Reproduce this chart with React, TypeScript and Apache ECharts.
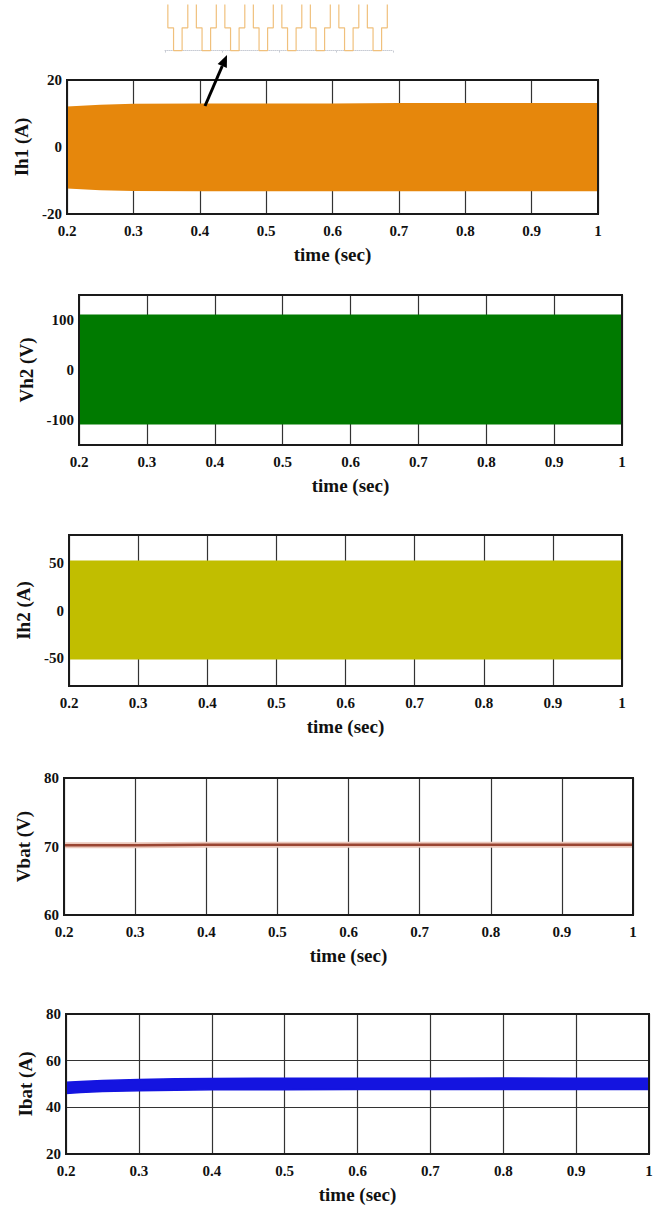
import React, { useEffect, useRef } from "react";
import * as echarts from "echarts";

// ---- data ----
const timeTicks = [0.2, 0.3, 0.4, 0.5, 0.6, 0.7, 0.8, 0.9, 1];

const ih1Time = [0.2, 0.25, 0.3, 0.4, 0.5, 0.6, 0.7, 0.8, 0.9, 1.0];
const ih1Upper = [12.1, 12.6, 12.9, 13.0, 13.0, 13.0, 13.1, 13.1, 13.1, 13.1];
const ih1Lower = [-12.4, -12.9, -13.1, -13.2, -13.2, -13.2, -13.2, -13.2, -13.2, -13.2];

const vh2Time = [0.2, 0.3, 0.4, 0.5, 0.6, 0.7, 0.8, 0.9, 1.0];
const vh2Upper = [111, 111, 111, 111, 111, 111, 111, 111, 111];
const vh2Lower = [-109, -109, -109, -109, -109, -109, -109, -109, -109];

const ih2Time = [0.2, 0.3, 0.4, 0.5, 0.6, 0.7, 0.8, 0.9, 1.0];
const ih2Upper = [53, 53, 53, 53, 53, 53, 53, 53, 53];
const ih2Lower = [-52, -52, -52, -52, -52, -52, -52, -52, -52];

const vbatTime = [0.2, 0.3, 0.4, 0.5, 0.6, 0.7, 0.8, 0.9, 1.0];
const vbatValues = [70.2, 70.2, 70.25, 70.25, 70.25, 70.25, 70.25, 70.25, 70.25];

const ibatTime = [0.2, 0.22, 0.25, 0.3, 0.35, 0.4, 0.5, 0.6, 0.7, 0.8, 0.9, 1.0];
const ibatUpper = [50.7, 51.1, 51.5, 51.9, 52.2, 52.4, 52.5, 52.5, 52.5, 52.6, 52.5, 52.5];
const ibatLower = [45.9, 46.4, 46.8, 47.1, 47.3, 47.5, 47.5, 47.6, 47.6, 47.6, 47.6, 47.6];

// inset: stepped multilevel waveform (3 = top, cut off by the frame; 1 = middle step; 0 = bottom)
const insetLevels = [
  3, 1, 1, 0, 0, 0, 1, 1, 3, 3,
  3, 1, 1, 0, 0, 0, 1, 1, 3, 3,
  3, 1, 1, 0, 0, 0, 1, 1, 3, 3,
  3, 1, 1, 0, 0, 0, 1, 1, 3, 3,
  3, 1, 1, 0, 0, 0, 1, 1, 3, 3,
  3, 1, 1, 0, 0, 0, 1, 1, 3, 3,
  3, 1, 1, 0, 0, 0, 1, 1, 3, 3,
  3, 1, 1, 0, 0, 0, 1, 1, 3, 3,
  3,
];

const panelNames = ["Ih1 (A)", "Vh2 (V)", "Ih2 (A)", "Vbat (V)", "Ibat (A)"];
const yMins = [-20, -150, -80, 60, 20];
const yMaxs = [20, 150, 80, 80, 80];
const yIntervals = [20, 50, 10, 10, 20];
const yLabelValues = [
  [-20, 0, 20],
  [-100, 0, 100],
  [-50, 0, 50],
  [60, 70, 80],
  [20, 40, 60, 80],
];
const yGridLines = [false, false, false, true, true];

// layout (pixels)
const grids = [
  { left: 67, right: 598, top: 80, bottom: 214 },
  { left: 79, right: 622, top: 295, bottom: 445 },
  { left: 69, right: 622, top: 535, bottom: 686 },
  { left: 64, right: 633, top: 778, bottom: 915 },
  { left: 66, right: 649, top: 1014, bottom: 1154 },
];

const FONT = "Liberation Serif";
const TXT = "#111";

function band(idx: number, t: number[], lo: number[], hi: number[], color: string, stroke: boolean) {
  return {
    type: "custom",
    xAxisIndex: idx,
    yAxisIndex: idx,
    silent: true,
    clip: true,
    data: [[t[0], lo[0]]],
    renderItem: (_params: any, api: any) => {
      const pts: number[][] = [];
      for (let i = 0; i < t.length; i++) pts.push(api.coord([t[i], hi[i]]));
      for (let i = t.length - 1; i >= 0; i--) pts.push(api.coord([t[i], lo[i]]));
      return {
        type: "polygon",
        shape: { points: pts },
        style: stroke
          ? { fill: color, stroke: color, lineWidth: 1.5, lineJoin: "round" }
          : { fill: color },
      };
    },
  };
}

export default function App() {
  const ref = useRef<HTMLDivElement>(null);

  useEffect(() => {
    if (!ref.current) return;
    const chart = echarts.init(ref.current, undefined, { renderer: "svg" });

    const gridOpts: any[] = grids.map((g) => ({
      left: g.left,
      top: g.top,
      width: g.right - g.left,
      height: g.bottom - g.top,
      show: true,
      borderColor: "#1a1a1a",
      borderWidth: 2,
      backgroundColor: "transparent",
      z: 5,
    }));
    gridOpts.push({ left: 165, top: 5, width: 228, height: 57, show: false });

    const xAxes: any[] = grids.map((_g, i) => ({
      type: "value",
      gridIndex: i,
      min: 0.2,
      max: 1,
      interval: 0.1,
      name: "time (sec)",
      nameLocation: "middle",
      nameGap: 31,
      nameTextStyle: { fontFamily: FONT, fontWeight: "bold", fontSize: 19, color: TXT },
      axisLine: { show: false },
      axisTick: { show: false },
      axisLabel: {
        margin: 9,
        showMinLabel: true,
        showMaxLabel: true,
        fontFamily: FONT,
        fontWeight: "bold",
        fontSize: 15,
        color: TXT,
        formatter: (v: number) => {
          const r = Math.round(v * 10) / 10;
          return timeTicks.indexOf(r) >= 0 ? String(r) : "";
        },
      },
      splitLine: { show: true, lineStyle: { color: "#333", width: 1.2 } },
    }));
    xAxes.push({
      type: "value",
      gridIndex: 5,
      min: 0,
      max: insetLevels.length - 1,
      axisLine: { show: true, lineStyle: { color: "#c8ccd4", type: "dotted", width: 1 } },
      axisTick: { show: true, length: 2, lineStyle: { color: "#c8ccd4" } },
      axisLabel: { show: false },
      splitLine: { show: false },
    });

    const yAxes: any[] = grids.map((g, i) => ({
      type: "value",
      gridIndex: i,
      min: yMins[i],
      max: yMaxs[i],
      interval: yIntervals[i],
      name: panelNames[i],
      nameLocation: "middle",
      nameGap: g.left - 37,
      nameTextStyle: { fontFamily: FONT, fontWeight: "bold", fontSize: 19, color: TXT },
      axisLine: { show: false },
      axisTick: { show: false },
      axisLabel: {
        margin: 5,
        showMinLabel: true,
        showMaxLabel: true,
        fontFamily: FONT,
        fontWeight: "bold",
        fontSize: 15,
        color: TXT,
        formatter: (v: number) => (yLabelValues[i].indexOf(Math.round(v)) >= 0 ? String(Math.round(v)) : ""),
      },
      splitLine: { show: yGridLines[i], lineStyle: { color: "#333", width: 1.2 } },
    }));
    yAxes.push({
      type: "value",
      gridIndex: 5,
      min: -0.5,
      max: 2,
      show: false,
    });

    const series: any[] = [
      band(0, ih1Time, ih1Lower, ih1Upper, "#e6870c", false),
      band(1, vh2Time, vh2Lower, vh2Upper, "#007a00", false),
      band(2, ih2Time, ih2Lower, ih2Upper, "#c1be00", false),
      {
        type: "line",
        xAxisIndex: 3,
        yAxisIndex: 3,
        silent: true,
        symbol: "none",
        lineStyle: { color: "#ecc8bc", width: 6 },
        data: vbatTime.map((t, i) => [t, vbatValues[i]]),
        z: 2,
      },
      {
        type: "line",
        xAxisIndex: 3,
        yAxisIndex: 3,
        silent: true,
        symbol: "none",
        lineStyle: { color: "#9a4532", width: 2.5 },
        data: vbatTime.map((t, i) => [t, vbatValues[i]]),
        z: 3,
      },
      band(4, ibatTime, ibatLower, ibatUpper, "#1414e0", true),
      {
        type: "line",
        xAxisIndex: 5,
        yAxisIndex: 5,
        silent: true,
        symbol: "none",
        step: "end",
        clip: true,
        lineStyle: { color: "#f0c07c", width: 1.2 },
        data: insetLevels.map((lv, i) => [i, lv]),
      },
    ];

    // arrow pointing to the inset
    const tail = [205, 106];
    const tip = [227, 55];
    const dx = tip[0] - tail[0];
    const dy = tip[1] - tail[1];
    const len = Math.sqrt(dx * dx + dy * dy);
    const ux = dx / len;
    const uy = dy / len;
    const hl = 12;
    const hw = 5;
    const bx = tip[0] - hl * ux;
    const by = tip[1] - hl * uy;
    const nx = -uy;
    const ny = ux;

    chart.setOption({
      animation: false,
      backgroundColor: "#ffffff",
      grid: gridOpts,
      xAxis: xAxes,
      yAxis: yAxes,
      series,
      graphic: [
        {
          type: "line",
          z: 100,
          shape: { x1: tail[0], y1: tail[1], x2: bx, y2: by },
          style: { stroke: "#000", lineWidth: 3 },
        },
        {
          type: "polygon",
          z: 100,
          shape: {
            points: [
              [tip[0], tip[1]],
              [bx + hw * nx, by + hw * ny],
              [bx - hw * nx, by - hw * ny],
            ],
          },
          style: { fill: "#000" },
        },
      ],
    });

    return () => chart.dispose();
  }, []);

  return (
    <div
      ref={ref}
      style={{ position: "absolute", left: 0, top: 0, width: 661, height: 1211, background: "#fff" }}
    />
  );
}
